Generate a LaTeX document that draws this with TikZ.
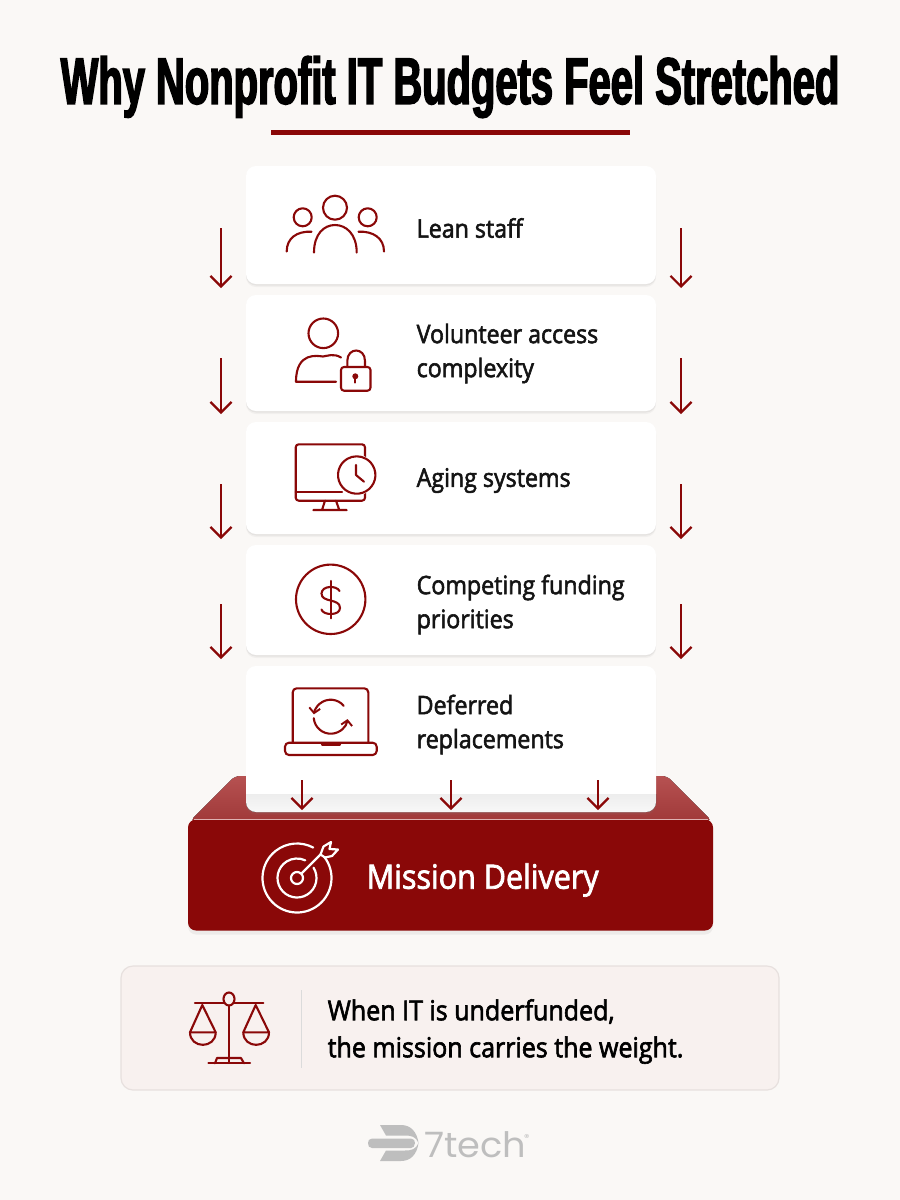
\documentclass[tikz,border=0pt]{standalone}
\usepackage{fontspec}
\usepackage{tikz}
\usetikzlibrary{positioning,arrows.meta,shadows}
\setmainfont{Open Sans}
\newfontfamily\titlefont[FakeStretch=0.605,FakeBold=2.2]{Liberation Sans}
\newfontfamily\cardfont[FakeStretch=0.91,FakeBold=2.2]{Open Sans}
\newfontfamily\logofont[FakeStretch=1.05]{Poppins}
\definecolor{brickred}{HTML}{8A0808}
\definecolor{pagebg}{HTML}{FAF8F6}
\definecolor{ledgebg}{HTML}{AE3E3E}
\definecolor{notebg}{HTML}{F8F1EF}
\definecolor{noteedge}{HTML}{E7E0DE}
\definecolor{logogray}{HTML}{BEBEBE}
\tikzset{
cardbox/.style={fill=white,rounded corners=10,minimum width=410,inner sep=0,
  drop shadow={opacity=.07,shadow xshift=0pt,shadow yshift=-3pt},
  drop shadow={opacity=.10,shadow xshift=0pt,shadow yshift=-1.5pt}},
cardtext/.style={anchor=west,inner sep=0,align=left,font=\cardfont\fontsize{25.5}{34}\selectfont,text=black!92},
notetext/.style={anchor=west,inner sep=0,align=left,font=\cardfont\fontsize{27.5}{37}\selectfont,text=black},
iconline/.style={draw=brickred,line width=2.1,line cap=round,line join=round},
whiteline/.style={draw=white,line width=2.2,line cap=round,line join=round},
flowarrow/.style={draw=brickred,line width=2.2,-{Straight Barb[length=10.5,width=21,line width=2.2]}},
}
\begin{document}
\begin{tikzpicture}[x=1pt,y=1pt,yscale=-1]
\useasboundingbox (0,0) rectangle (900,1200);
\fill [pagebg] (0,0) rectangle (900,1200);
% Title
\node (title) [inner sep=0,font=\titlefont\bfseries\fontsize{66}{66}\selectfont,text=black] at (450,87) {Why Nonprofit IT Budgets Feel Stretched};
\coordinate (ruleL) at (271,132.5);
\coordinate (ruleR) at (630,132.5);
\draw [brickred,line width=4.5] (ruleL) -- (ruleR);

%Shape: base ledge
\fill [top color=ledgebg!90!white,bottom color=ledgebg!92!black,rounded corners=5] (190,821) -- (235,776) -- (667,776) -- (712,821) -- cycle;
%Shape: base front
\node (base) [fill=brickred,rounded corners=8,minimum width=525,minimum height=111,inner sep=0,
  drop shadow={opacity=.10,shadow xshift=0pt,shadow yshift=-4pt}] at (450.5,875) {};
\draw [ledgebg!40!white,line width=1] (194,819.5) -- (708,819.5);

%Shape: cards
\node (card1) [cardbox,minimum height=118] at (451,225) {};
\node (card2) [cardbox,minimum height=116] at (451,353) {};
\node (card3) [cardbox,minimum height=112] at (451,478) {};
\node (card4) [cardbox,minimum height=110] at (451,600) {};
\node (card5) [cardbox,minimum height=146] at (451,739) {};
\fill [top color=black!7,bottom color=black!3,rounded corners=10] (246,794) [sharp corners] -- (246,800) [rounded corners=10] -- (246,812) -- (656,812) [sharp corners] -- (656,800) -- (656,794) -- cycle;

%Straight Lines: side arrows
\foreach \n/\ya/\yb in {1/228/288,2/358/414,3/484/539,4/604/659}{
  \coordinate (lt\n) at (221,\ya);
  \coordinate (lb\n) at (221,\yb);
  \coordinate (rt\n) at (681,\ya);
  \coordinate (rb\n) at (681,\yb);
  \draw [flowarrow] (lt\n) -- (lb\n);
  \draw [flowarrow] (rt\n) -- (rb\n);
}
%Straight Lines: arrows into the base
\foreach \n/\xa in {1/302,2/451,3/598}{
  \coordinate (dt\n) at (\xa,780);
  \coordinate (db\n) at (\xa,810);
  \draw [flowarrow] (dt\n) -- (db\n);
}

% Text Node
\node (lean) [cardtext] at (416.5,228) {Lean staff};
\node (volunteer) [cardtext] at (416.5,353.5) {Volunteer access\\complexity};
\node (aging) [cardtext] at (416.5,480.5) {Aging systems};
\node (funding) [cardtext] at (416.5,604.5) {Competing funding\\priorities};
\node (deferred) [cardtext] at (416.5,724.5) {Deferred\\replacements};
\node (mission) [anchor=west,inner sep=0,font=\cardfont\fontsize{33.5}{35}\selectfont,text=white] at (366.5,880) {Mission Delivery};

%Icon: people
\draw [iconline] (335,207.7) circle (12);
\draw [iconline] (302.7,217.3) circle (9);
\draw [iconline] (367.7,217.3) circle (9);
\draw [iconline] (314,252.5) .. controls (314,234) and (324,225) .. (335,225) .. controls (346,225) and (356.7,234) .. (356.7,252.5);
\draw [iconline] (286.7,251.5) .. controls (286.7,238) and (297,231) .. (311.5,231.7);
\draw [iconline] (384,251.5) .. controls (384,238) and (373,231) .. (358.5,231.7);

%Icon: volunteer with lock
\draw [iconline] (323.3,333.3) circle (14.8);
\draw [iconline] (341,357.5) .. controls (334,353) and (327,356) .. (323,356.5) .. controls (318,356) and (296,351) .. (296,381.7) -- (336,381.7);
\draw [iconline,rounded corners=3] (341,367) rectangle (370.5,390.7);
\draw [iconline] (347.3,366.7) -- (347.3,361) .. controls (347.3,347) and (365,347) .. (365,361) -- (365,366.7);
\fill [brickred] (355.3,376.3) circle (3);
\draw [iconline] (355.3,376.3) -- (355.3,382.5);

%Icon: monitor with clock
\draw [iconline,rounded corners=3] (295.7,444.3) rectangle (365,500.7);
\draw [iconline] (295.7,491.7) -- (342,491.7);
\draw [iconline] (325,500.7) -- (322,510) (336,500.7) -- (339.3,510) (313.3,510) -- (346.7,510);
\draw [white,fill=white,line width=3] (356.7,475) circle (18.7);
\draw [iconline] (356.7,475) ++(-30:18.7) arc [start angle=-30,end angle=338,radius=18.7];
\draw [iconline] (356,465) -- (356,475) -- (364,481.7);

%Icon: dollar
\draw [iconline] (330.7,599.3) circle (34.7);
\draw [iconline] (330.7,581) -- (330.7,618.3);
\draw [iconline] (339.5,591) .. controls (337,585.5) and (322,585) .. (321.5,593.5) .. controls (321.5,603) and (340,598) .. (340,608) .. controls (340,616) and (323,615.5) .. (321.5,609.5);

%Icon: laptop with sync arrows
\draw [iconline,rounded corners=4] (292.7,742.7) -- (292.7,688.3) -- (368.3,688.3) -- (368.3,742.7);
\draw [iconline,rounded corners=4] (285,742.7) -- (376.7,742.7) -- (376.7,755) -- (285,755) -- cycle;
\draw [iconline] (322,744.5) -- (340,744.5);
\draw [iconline,-{Straight Barb[length=5,width=11,line width=1.9]}] (330.7,716.7) ++(-40:17) arc [start angle=-40,end angle=-172,radius=17];
\draw [iconline,-{Straight Barb[length=5,width=11,line width=1.9]}] (330.7,716.7) ++(175:17) arc [start angle=175,end angle=8,radius=17];

%Icon: target
\draw [whiteline] (297,878) ++(-38:34.5) arc [start angle=-38,end angle=298,radius=34.5];
\draw [whiteline] (297,878) ++(-32:19.5) arc [start angle=-32,end angle=295,radius=19.5];
\draw [whiteline] (297,878) circle (6);
\draw [whiteline] (301.5,873.5) -- (321,854);
\draw [whiteline] (320.5,854.5) -- (323.5,846.5) -- (331,842) -- (329.5,849) -- (338,849.5) -- (332,856) -- (325,857.5) -- cycle;

%Shape: note box
\node (note) [fill=notebg,draw=noteedge,line width=1.2,rounded corners=12,minimum width=658,minimum height=124,inner sep=0] at (450,1028) {};
\coordinate (septop) at (301,990);
\coordinate (sepbot) at (301,1068);
\draw [black!14,line width=1] (septop) -- (sepbot);
\node (notetxt) [notetext] at (327.5,1031.5) {When IT is underfunded,\\the mission carries the weight.};

%Icon: scales
\draw [iconline] (229,999) ellipse (5.5 and 6.5);
\draw [iconline] (195,1003.3) -- (223.5,1003.3) (234.5,1003.3) -- (263.3,1003.3);
\draw [iconline] (229,1005.5) -- (229,1063);
\draw [iconline] (208.3,1063.3) -- (250,1063.3);
\draw [iconline] (215,1063.3) -- (217,1058) -- (241,1058) -- (244,1063.3);
\draw [iconline] (190,1032.3) -- (202.3,1005) -- (215.7,1032.3) -- cycle;
\draw [iconline] (190,1032.3) .. controls (190,1049) and (215.7,1049) .. (215.7,1032.3);
\draw [iconline] (243.3,1032.3) -- (255.7,1005) -- (269,1032.3) -- cycle;
\draw [iconline] (243.3,1032.3) .. controls (243.3,1049) and (269,1049) .. (269,1032.3);

%Shape: logo mark
\fill [logogray] (372,1138.5) -- (411,1138.5) .. controls (414,1138.5) and (415,1141) .. (415,1143) .. controls (415,1146) and (413,1148) .. (411,1148) -- (372,1148) .. controls (369,1148) and (368,1146) .. (368,1143) .. controls (368,1141) and (369,1138.5) .. (372,1138.5) -- cycle;
\fill [logogray] (380,1125) -- (401,1125) .. controls (411,1125) and (417,1132) .. (418.5,1143) .. controls (416,1136.5) and (411,1135.5) .. (405,1135.5) -- (386,1135.5) -- cycle;
\fill [logogray] (380,1161) -- (401,1161) .. controls (411,1161) and (417,1154) .. (418.5,1143) .. controls (416,1149.5) and (411,1150.5) .. (405,1150.5) -- (386,1150.5) -- cycle;
% Text Node
\node (logotxt) [anchor=west,inner sep=0,font=\logofont\fontsize{35}{35}\selectfont,text=logogray] at (424,1145) {7tech};
\node (logomark) [anchor=west,inner sep=0,font=\logofont\fontsize{10}{10}\selectfont,text=logogray] at (524,1138) {®};
\end{tikzpicture}
\end{document}
